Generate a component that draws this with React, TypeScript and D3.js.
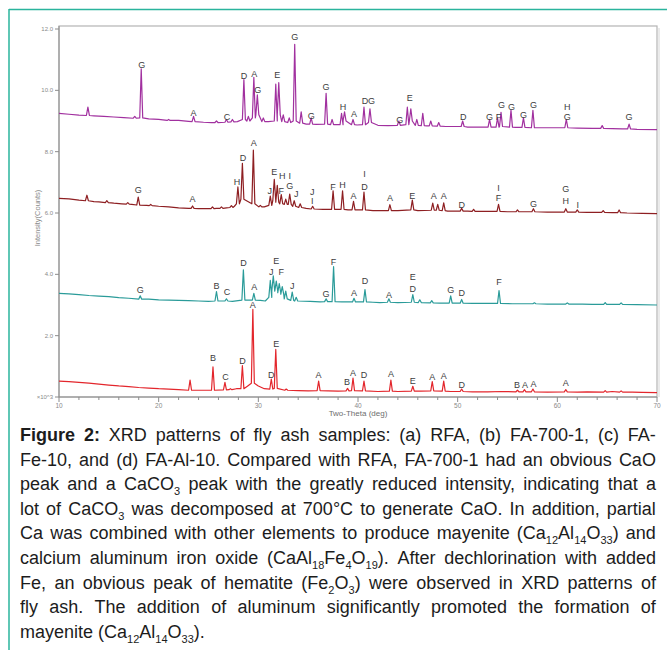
import * as d3 from 'd3'

type Pt = [number, number]
type Peak = [number, number, number] // 2θ, peak top, foot level
type Tag = [number, number, string] // 2θ, label height, phase letter

const W = 667, H = 650
const X0 = 59, X1 = 657, Y0 = 397, Y1 = 29, FRAME_TOP = 26
const HW = 0.15 // half width of a peak in degrees

const thetaTicks = [10, 20, 30, 40, 50, 60, 70]
const countTicks = [0, 2, 4, 6, 8, 10, 12]
const countLabels = ['×10^3', '2.0', '4.0', '6.0', '8.0', '10.0', '12.0']

// (a) bottom, red
const redBase: Pt[] = [[10, 0.52], [11, 0.5], [12, 0.48], [13, 0.45], [14, 0.42], [15, 0.39], [16, 0.36], [17, 0.34], [18, 0.31], [19, 0.29], [20, 0.27], [21, 0.26], [22, 0.24], [24, 0.22], [27.8, 0.27], [28.9, 0.35], [30, 0.36], [30.6, 0.27], [34, 0.21], [35, 0.2], [37, 0.2], [38, 0.19], [42, 0.18], [44, 0.18], [46.3, 0.19], [49.3, 0.18], [51.5, 0.17], [53, 0.17], [54.5, 0.18], [59, 0.16], [62, 0.16], [63, 0.17], [65.5, 0.18], [67.5, 0.16], [68.5, 0.15], [70, 0.14]]
const redPeaks: Peak[] = [[23.15, 0.55, 0.22], [25.45, 0.98, 0.22], [26.65, 0.48, 0.23], [27.2, 0.27, 0.24], [28.4, 1.02, 0.27], [29.45, 2.86, 0.45], [31.3, 0.58, 0.26], [31.75, 1.55, 0.28], [32.8, 0.26, 0.22], [36.05, 0.52, 0.21], [38.95, 0.28, 0.2], [39.5, 0.62, 0.21], [40.6, 0.52, 0.2], [43.3, 0.55, 0.19], [45.5, 0.35, 0.19], [47.45, 0.5, 0.2], [48.6, 0.52, 0.19], [50.4, 0.26, 0.18], [56.0, 0.22, 0.17], [56.7, 0.24, 0.17], [57.55, 0.26, 0.17], [60.85, 0.24, 0.17], [64.8, 0.21, 0.16], [66.4, 0.2, 0.16]]
const redTags: Tag[] = [[25.45, 1.28, 'B'], [26.7, 0.65, 'C'], [28.4, 1.17, 'D'], [29.45, 3.02, 'A'], [31.3, 0.72, 'D'], [31.8, 1.72, 'E'], [36.05, 0.72, 'A'], [38.9, 0.5, 'B'], [39.5, 0.79, 'A'], [40.6, 0.71, 'D'], [43.3, 0.77, 'A'], [45.5, 0.54, 'E'], [47.45, 0.65, 'A'], [48.6, 0.68, 'A'], [50.4, 0.41, 'D'], [55.95, 0.39, 'B'], [56.75, 0.39, 'A'], [57.6, 0.43, 'A'], [60.85, 0.45, 'A']]

// (b) teal
const tealBase: Pt[] = [[10, 3.38], [11, 3.36], [12, 3.34], [13, 3.31], [14, 3.29], [15, 3.27], [16, 3.24], [17, 3.22], [19, 3.19], [20, 3.17], [21, 3.16], [22, 3.15], [23, 3.14], [24, 3.13], [25, 3.12], [27.4, 3.12], [30.2, 3.15], [30.7, 3.13], [35.2, 3.12], [36.2, 3.1], [38.4, 3.1], [41.5, 3.09], [42.2, 3.08], [44, 3.08], [48.2, 3.06], [51.5, 3.05], [53, 3.05], [55.5, 3.04], [59, 3.03], [62.5, 3.03], [63.5, 3.02], [68, 3.01], [70, 3.0]]
const tealPeaks: Peak[] = [[18.15, 3.3, 3.19], [25.8, 3.44, 3.13], [26.8, 3.2, 3.13], [28.5, 4.15, 3.16], [29.55, 3.38, 3.16], [31.2, 3.8, 3.25], [31.5, 3.95, 3.45], [31.8, 3.78, 3.45], [32.1, 3.7, 3.4], [32.4, 3.6, 3.35], [32.75, 3.45, 3.2], [33.4, 3.42, 3.15], [33.8, 3.25, 3.13], [36.8, 3.2, 3.11], [37.55, 4.25, 3.11], [39.6, 3.22, 3.1], [40.7, 3.5, 3.1], [43.1, 3.2, 3.09], [45.5, 3.34, 3.09], [46.2, 3.17, 3.08], [47.4, 3.14, 3.07], [49.3, 3.3, 3.06], [50.4, 3.18, 3.06], [54.15, 3.47, 3.05], [57.7, 3.07, 3.04], [61, 3.07, 3.03], [64.8, 3.08, 3.02], [66.4, 3.07, 3.02]]
const tealTags: Tag[] = [[18.15, 3.51, 'G'], [25.8, 3.62, 'B'], [26.85, 3.42, 'C'], [28.5, 4.38, 'D'], [29.6, 3.6, 'A'], [31.3, 4.09, 'J'], [31.8, 4.45, 'E'], [32.3, 4.09, 'F'], [33.4, 3.62, 'J'], [36.8, 3.36, 'G'], [37.55, 4.4, 'F'], [39.6, 3.38, 'A'], [40.7, 3.78, 'D'], [43.1, 3.32, 'A'], [45.5, 3.54, 'D'], [45.5, 3.92, 'E'], [49.3, 3.49, 'G'], [50.4, 3.38, 'D'], [54.15, 3.76, 'F']]

// (c) dark red
const brownBase: Pt[] = [[10, 6.48], [11, 6.46], [12, 6.42], [13.5, 6.37], [14, 6.36], [15.5, 6.32], [16.3, 6.3], [17.3, 6.28], [18.8, 6.25], [20, 6.22], [21, 6.2], [22, 6.17], [23, 6.15], [24, 6.14], [24.8, 6.14], [25.8, 6.15], [26.8, 6.17], [27.6, 6.22], [30.6, 6.2], [34.8, 6.15], [36.5, 6.12], [39, 6.1], [40, 6.1], [41.5, 6.08], [42.5, 6.08], [44, 6.08], [46, 6.08], [49, 6.06], [51, 6.06], [52.5, 6.05], [55, 6.04], [57, 6.04], [59, 6.03], [63, 6.02], [65.5, 6.01], [67, 6.0], [68.5, 5.99], [70, 5.98]]
const brownPeaks: Peak[] = [[12.8, 6.58, 6.4], [14.8, 6.4, 6.34], [16.9, 6.34, 6.29], [17.95, 6.52, 6.26], [19.2, 6.28, 6.24], [23.4, 6.23, 6.15], [25.4, 6.2, 6.14], [26.3, 6.2, 6.15], [27.3, 6.24, 6.18], [27.95, 6.85, 6.3], [28.4, 7.62, 6.45], [29.5, 8.05, 6.3], [30.2, 6.25, 6.2], [31.2, 6.55, 6.25], [31.6, 7.1, 6.4], [31.9, 6.9, 6.35], [32.3, 6.6, 6.3], [32.75, 6.45, 6.28], [33.15, 6.62, 6.28], [33.6, 6.4, 6.22], [34.2, 6.3, 6.18], [35.45, 6.22, 6.13], [37.5, 6.72, 6.12], [38.45, 6.72, 6.12], [39.55, 6.38, 6.1], [40.6, 6.68, 6.1], [43.2, 6.27, 6.08], [45.45, 6.42, 6.1], [47.5, 6.32, 6.09], [48.0, 6.28, 6.09], [48.6, 6.33, 6.08], [50.4, 6.15, 6.06], [51.6, 6.12, 6.05], [54.1, 6.28, 6.05], [56, 6.1, 6.04], [57.6, 6.14, 6.04], [60.85, 6.14, 6.03], [62.0, 6.1, 6.03], [64.6, 6.08, 6.02], [66.2, 6.1, 6.01]]
const brownTags: Tag[] = [[17.95, 6.74, 'G'], [23.4, 6.47, 'A'], [27.85, 7.03, 'H'], [28.45, 7.8, 'D'], [29.55, 8.28, 'A'], [31.15, 6.72, 'J'], [31.6, 7.33, 'E'], [32.4, 7.22, 'H'], [32.3, 6.72, 'F'], [33.15, 7.2, 'I'], [33.15, 6.9, 'G'], [33.8, 6.64, 'J'], [35.4, 6.68, 'J'], [35.4, 6.38, 'I'], [37.5, 6.86, 'F'], [38.45, 6.92, 'H'], [39.55, 6.56, 'A'], [40.65, 7.28, 'I'], [40.65, 6.86, 'D'], [43.2, 6.48, 'A'], [45.45, 6.56, 'E'], [47.6, 6.56, 'A'], [48.6, 6.56, 'A'], [50.4, 6.28, 'D'], [54.1, 6.81, 'I'], [54.1, 6.5, 'F'], [57.6, 6.31, 'G'], [60.85, 6.78, 'G'], [60.85, 6.39, 'H'], [62.05, 6.26, 'I']]

// (d) top, purple
const purpleBase: Pt[] = [[10, 9.25], [11, 9.22], [12, 9.19], [13.5, 9.17], [14.5, 9.15], [15.5, 9.13], [16.5, 9.11], [19, 9.07], [20, 9.05], [22, 9.02], [23, 8.99], [24.5, 8.96], [25.3, 8.95], [27.9, 8.98], [31, 8.98], [34.8, 8.9], [35.8, 8.89], [37.9, 8.88], [39.9, 8.87], [42, 8.86], [43, 8.85], [46.9, 8.84], [48.8, 8.82], [51, 8.8], [52, 8.8], [55.8, 8.79], [58.5, 8.78], [59.5, 8.78], [62, 8.77], [63.5, 8.76], [65.5, 8.75], [66.5, 8.74], [68, 8.73], [70, 8.72]]
const purplePeaks: Peak[] = [[12.9, 9.45, 9.18], [17.6, 9.15, 9.09], [18.25, 10.7, 9.1], [21, 9.05, 9.02], [23.5, 9.15, 8.98], [25.8, 9.0, 8.95], [26.8, 9.05, 8.96], [27.4, 9.05, 8.97], [28.55, 10.35, 9.05], [29.0, 9.15, 9.0], [29.55, 10.42, 9.1], [29.9, 9.85, 9.2], [30.5, 9.1, 8.98], [31.75, 10.2, 9.0], [32.05, 10.25, 9.2], [32.5, 9.2, 8.98], [33.1, 9.1, 8.95], [33.65, 11.5, 9.0], [34.3, 9.3, 8.93], [35.3, 9.1, 8.9], [36.8, 9.9, 8.9], [37.4, 9.05, 8.88], [38.35, 9.25, 8.88], [38.65, 9.3, 9.0], [39.5, 9.05, 8.88], [40.6, 9.45, 8.88], [41.2, 9.4, 8.95], [44.1, 9.0, 8.86], [44.95, 9.45, 8.88], [45.3, 9.4, 9.0], [45.9, 9.05, 8.86], [46.5, 9.25, 8.85], [47.3, 9.0, 8.84], [48.1, 8.95, 8.83], [50.5, 9.0, 8.82], [53.2, 9.05, 8.8], [54.0, 9.1, 8.8], [54.35, 9.28, 8.82], [55.35, 9.35, 8.8], [56.6, 9.1, 8.79], [57.55, 9.35, 8.78], [60.9, 9.05, 8.78], [64.5, 8.85, 8.76], [67.2, 8.9, 8.74]]
const purpleTags: Tag[] = [[18.3, 10.83, 'G'], [23.5, 9.27, 'A'], [26.85, 9.12, 'C'], [28.55, 10.47, 'D'], [29.6, 10.55, 'A'], [29.95, 10.02, 'G'], [31.9, 10.52, 'E'], [33.65, 11.75, 'G'], [35.3, 9.18, 'G'], [36.8, 10.1, 'G'], [38.5, 9.45, 'H'], [39.6, 9.22, 'A'], [40.7, 9.65, 'D'], [41.35, 9.65, 'G'], [44.2, 9.05, 'G'], [45.2, 9.75, 'E'], [50.55, 9.12, 'D'], [53.2, 9.12, 'G'], [54.1, 9.12, 'F'], [54.4, 9.52, 'G'], [55.4, 9.47, 'G'], [56.6, 9.2, 'G'], [57.6, 9.52, 'G'], [61.0, 9.45, 'H'], [61.0, 9.12, 'G'], [67.2, 9.12, 'G']]

const captionLines = [
  'Figure 2: XRD patterns of fly ash samples: (a) RFA, (b) FA-700-1, (c) FA-',
  'Fe-10, and (d) FA-Al-10. Compared with RFA, FA-700-1 had an obvious CaO',
  'peak and a CaCO_{3} peak with the greatly reduced intensity, indicating that a',
  'lot of CaCO_{3} was decomposed at 700°C to generate CaO. In addition, partial',
  'Ca was combined with other elements to produce mayenite (Ca_{12}Al_{14}O_{33}) and',
  'calcium aluminum iron oxide (CaAl_{18}Fe_{4}O_{19}). After dechlorination with added',
  'Fe, an obvious peak of hematite (Fe_{2}O_{3}) were observed in XRD patterns of',
  'fly ash. The addition of aluminum significantly promoted the formation of',
  'mayenite (Ca_{12}Al_{14}O_{33}).',
]

const x = d3.scaleLinear().domain([10, 70]).range([X0, X1])
const y = d3.scaleLinear().domain([0, 12]).range([Y0, Y1])
const line = d3.line<Pt>().x(d => x(d[0])).y(d => y(d[1]))

function trace(base: Pt[], peaks: Peak[]): Pt[] {
  const pts: Pt[] = base.filter(([b]) => peaks.every(([p]) => Math.abs(b - p) > HW))
  peaks.forEach(([p, top, foot]) => pts.push([p - HW, foot], [p, top], [p + HW, foot]))
  return pts.sort((a, b) => a[0] - b[0])
}

const series = [
  { key: 'red', color: '#e3262c', base: redBase, peaks: redPeaks, tags: redTags },
  { key: 'teal', color: '#2a9b99', base: tealBase, peaks: tealPeaks, tags: tealTags },
  { key: 'brown', color: '#8e1f22', base: brownBase, peaks: brownPeaks, tags: brownTags },
  { key: 'purple', color: '#a1309f', base: purpleBase, peaks: purplePeaks, tags: purpleTags },
]

const FONT = "'Liberation Sans', Arial, sans-serif"

function Word({ text, bold }: { text: string; bold?: boolean }) {
  const parts = text.split(/_\{(\d+)\}/)
  return (
    <span style={{ fontWeight: bold ? 700 : 400, whiteSpace: 'nowrap' }}>
      {parts.map((p, i) =>
        i % 2 ? <span key={i} style={{ fontSize: 11, verticalAlign: -5, lineHeight: 0 }}>{p}</span> : p)}
    </span>
  )
}

function Caption() {
  return (
    <div style={{ fontFamily: FONT, fontSize: 18, color: '#1c1c1c', width: 636 }}>
      {captionLines.map((ln, li) => {
        const words = ln.split(' ')
        const last = li === captionLines.length - 1
        return (
          <div key={li} style={{
            display: 'flex', justifyContent: last ? 'flex-start' : 'space-between',
            columnGap: last ? 5 : 0, height: 24.6, lineHeight: '24.6px', alignItems: 'baseline',
          }}>
            {words.map((w, wi) => <Word key={wi} text={w} bold={li === 0 && wi < 2} />)}
          </div>
        )
      })}
    </div>
  )
}

export default function App() {
  const minor = x.ticks(30).filter(t => !thetaTicks.includes(t))
  return (
    <svg width={W} height={H} style={{ position: 'absolute', left: 0, top: 0, background: '#fff' }}
      fontFamily={FONT}>
      {/* card border */}
      <line x1={9} y1={9.5} x2={W} y2={9.5} stroke="#2ab49d" strokeWidth={1.5} />
      <line x1={9} y1={9} x2={9} y2={H} stroke="#2ab49d" strokeWidth={1.5} />

      {/* frame */}
      <rect x={X0} y={FRAME_TOP} width={X1 - X0} height={Y0 - FRAME_TOP} fill="none" stroke="#b4b4b4" strokeWidth={1.2} />
      <line x1={X0} y1={FRAME_TOP} x2={X0} y2={Y0} stroke="#8c8c8c" />
      <line x1={X0} y1={Y0} x2={X1} y2={Y0} stroke="#8c8c8c" />
      <line x1={X1 + 2} y1={FRAME_TOP + 2} x2={X1 + 2} y2={Y0} stroke="#d6d6d6" />

      {/* y axis */}
      {countTicks.map((t, i) => (
        <g key={t} transform={`translate(${X0},${y(t)})`}>
          <line x1={-4} x2={0} stroke="#8c8c8c" />
          <text x={-6} dy="0.35em" textAnchor="end" fontSize={6} fill="#8a8a8a">{countLabels[i]}</text>
        </g>
      ))}
      <text transform="translate(40,218) rotate(-90)" textAnchor="middle"
        fontSize={7.5} fill="#8a8a8a">Intensity(Counts)</text>

      {/* x axis */}
      {minor.map(t => <line key={t} x1={x(t)} x2={x(t)} y1={Y0} y2={Y0 + 3} stroke="#8c8c8c" />)}
      {thetaTicks.map(t => (
        <g key={t} transform={`translate(${x(t)},${Y0})`}>
          <line y2={5} stroke="#8c8c8c" />
          <text y={6} dy="0.7em" textAnchor="middle" fontSize={6.5} fill="#8a8a8a">{t}</text>
        </g>
      ))}
      <text x={(X0 + X1) / 2} y={416} textAnchor="middle" fontSize={8} fill="#6e6e6e">Two-Theta (deg)</text>

      {/* patterns */}
      {series.map(s => (
        <path key={s.key} d={line(trace(s.base, s.peaks)) ?? ''} fill="none" stroke={s.color}
          strokeWidth={1.2} strokeLinejoin="round" />
      ))}
      {series.map(s => s.tags.map(([d, v, t], i) => (
        <text key={s.key + i} x={x(d)} y={y(v)} dy="0.35em" textAnchor="middle" fontSize={9} fill="#3d3d3d">{t}</text>
      )))}

      <foreignObject x={20} y={423} width={640} height={227}>
        <Caption />
      </foreignObject>
    </svg>
  )
}
